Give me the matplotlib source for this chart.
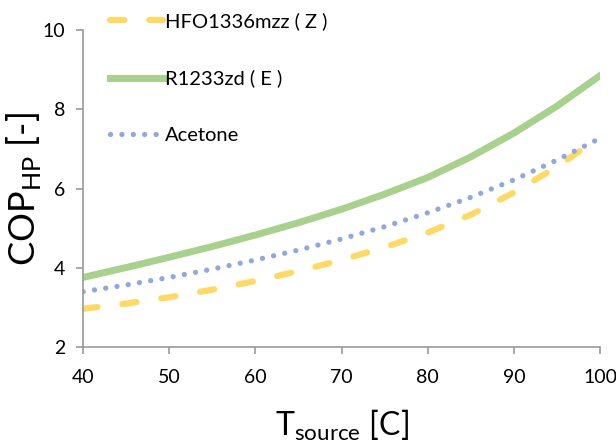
import matplotlib.pyplot as plt

# values
t_source = [40, 45, 50, 55, 60, 65, 70, 75, 80, 85, 90, 95, 100]
cop_hfo = [2.97, 3.10, 3.26, 3.45, 3.67, 3.92, 4.20, 4.52, 4.89, 5.34, 5.90, 6.55, 7.30]
cop_r1233 = [3.76, 4.01, 4.27, 4.54, 4.83, 5.14, 5.48, 5.86, 6.28, 6.80, 7.40, 8.08, 8.85]
cop_acetone = [3.40, 3.57, 3.76, 3.97, 4.20, 4.45, 4.73, 5.04, 5.39, 5.78, 6.22, 6.72, 7.27]

x_ticks = [40, 50, 60, 70, 80, 90, 100]
y_ticks = [2, 4, 6, 8, 10]

plt.rcParams['font.family'] = ['Lato', 'DejaVu Sans']
plt.rcParams['mathtext.fontset'] = 'custom'
plt.rcParams['mathtext.rm'] = 'Lato'

fig = plt.figure(figsize=(6.16, 4.48), dpi=100)
ax = fig.add_axes([0.135, 0.225, 0.839, 0.708])

ax.plot(t_source, cop_hfo, color='#FFD966', linewidth=4.5, dashes=(2.3, 4.0),
        dash_capstyle='round', label='HFO1336mzz ( Z )')
ax.plot(t_source, cop_r1233, color='#A9D18E', linewidth=5, label='R1233zd ( E )')
ax.plot(t_source, cop_acetone, color='#8EA9DB', linewidth=3.8, dashes=(0.01, 2.15),
        dash_capstyle='round', label='Acetone')

ax.set_xlim(40, 100)
ax.set_ylim(2, 10)
ax.set_xticks(x_ticks)
ax.set_yticks(y_ticks)
ax.tick_params(labelsize=14, labelcolor='#000000', color='#999999', length=5, width=1.2)
ax.tick_params(axis='x', pad=11)
ax.tick_params(axis='y', pad=8)
for side in ['top', 'right']:
    ax.spines[side].set_visible(False)
for side in ['left', 'bottom']:
    ax.spines[side].set_color('#999999')
    ax.spines[side].set_linewidth(1.2)

ax.set_xlabel(r'T$_{\mathregular{source}}$ [C]', fontsize=23)
ax.set_ylabel(r'COP$_{\mathregular{HP}}$ [-]', fontsize=26)
ax.xaxis.set_label_coords(0.5, -0.19)
ax.yaxis.set_label_coords(-0.078, 0.5)

ax.legend(loc='upper left', bbox_to_anchor=(0.166, 0.99), bbox_transform=fig.transFigure,
          frameon=False, fontsize=14.5, handlelength=2.6, handletextpad=0.1,
          labelspacing=1.95, borderaxespad=0)

plt.savefig('out.png', dpi=100)
